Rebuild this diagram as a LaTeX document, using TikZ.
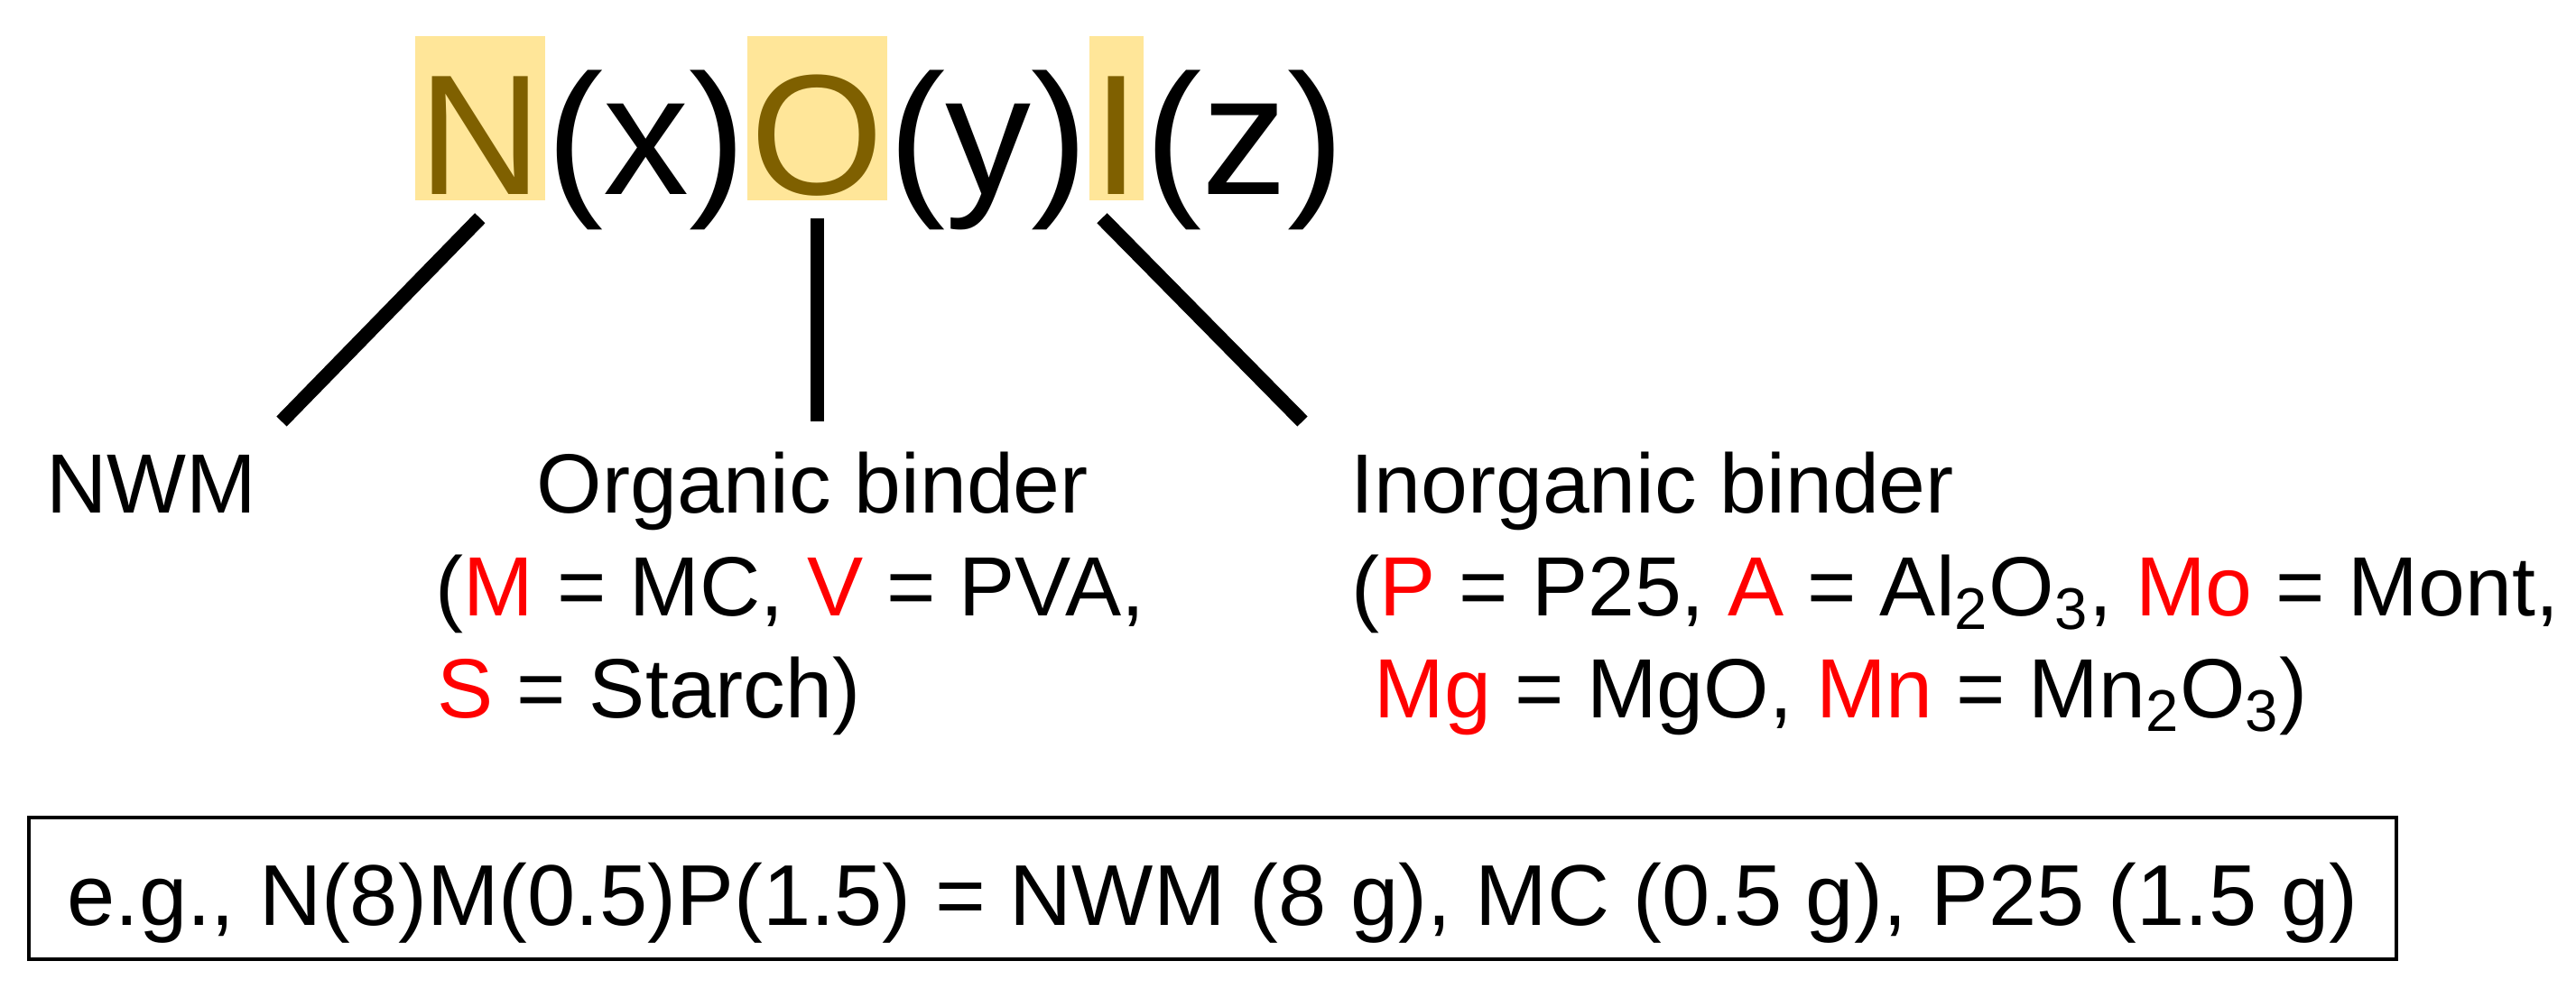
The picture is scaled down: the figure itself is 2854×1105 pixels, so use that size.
\documentclass[tikz,border=0pt]{standalone}
\usepackage{fontspec}
\setmainfont{Liberation Sans}
\definecolor{hlfill}{HTML}{FFE699}
\definecolor{hltext}{HTML}{7F6000}
\definecolor{keyred}{HTML}{FF0000}
\newcommand{\keyc}[1]{\textcolor{keyred}{#1}}
\begin{document}
\begin{tikzpicture}[x=0.01cm,y=-0.01cm,
  titlepart/.style={font=\fontsize{54}{60}\selectfont, inner sep=0pt, anchor=base west},
  hl/.style={titlepart, fill=hlfill, text=hltext, text height=1.75cm, text depth=0.07cm, inner xsep=1pt},
  lbl/.style={font=\fontsize{26.5}{30}\selectfont, inner sep=0pt, anchor=base west},
  conn/.style={line width=4.5pt},
  egbox/.style={draw, line width=1.2pt, minimum width=26.21cm, minimum height=1.57cm, inner sep=0pt,
    font=\fontsize{27.2}{30}\selectfont, text height=0.85cm, text depth=0.04cm}
]
\useasboundingbox (0,0) rectangle (2854,1105);
% title
\node[hl] (N) at (459,215) {N};
\node[titlepart] (px) at (N.base east) {(x)};
\node[hl] (O) at (px.base east) {O};
\node[titlepart] (py) at (O.base east) {(y)};
\node[hl] (I) at (py.base east) {I};
\node[titlepart] (pz) at (I.base east) {(z)};
% connector ends
\coordinate (e1) at (312,467);
\coordinate (e2) at (905,467);
\coordinate (e3) at (1443,467);
\draw[conn] ([yshift=-0.19cm]N.south) -- (e1);
\draw[conn] ([yshift=-0.19cm]O.south) -- (O.south |- e2);
\draw[conn] ([yshift=-0.19cm,xshift=-0.16cm]I.south) -- (e3);
% labels
\node[lbl] (nwm) at (51,568) {NWM};
\node[lbl] (org) at (594,568) {Organic binder};
\node[lbl] (org2) at (482,682) {(\keyc{M} = MC, \keyc{V} = PVA,};
\node[lbl] (org3) at (484,795) {\keyc{S} = Starch)};
\node[lbl] (inorg) at (1496,568) {Inorganic binder};
\node[lbl] (inorg2) at (1497,682) {(\keyc{P} = P25, \keyc{A} = Al\textsubscript{2}O\textsubscript{3}, \keyc{Mo} = Mont,};
\node[lbl] (inorg3) at (1522,795) {\keyc{Mg} = MgO, \keyc{Mn} = Mn\textsubscript{2}O\textsubscript{3})};
% example box
\node[egbox] (eg) at (1343.5,984.5) {e.g., N(8)M(0.5)P(1.5) = NWM (8 g), MC (0.5 g), P25 (1.5 g)};
\end{tikzpicture}
\end{document}
